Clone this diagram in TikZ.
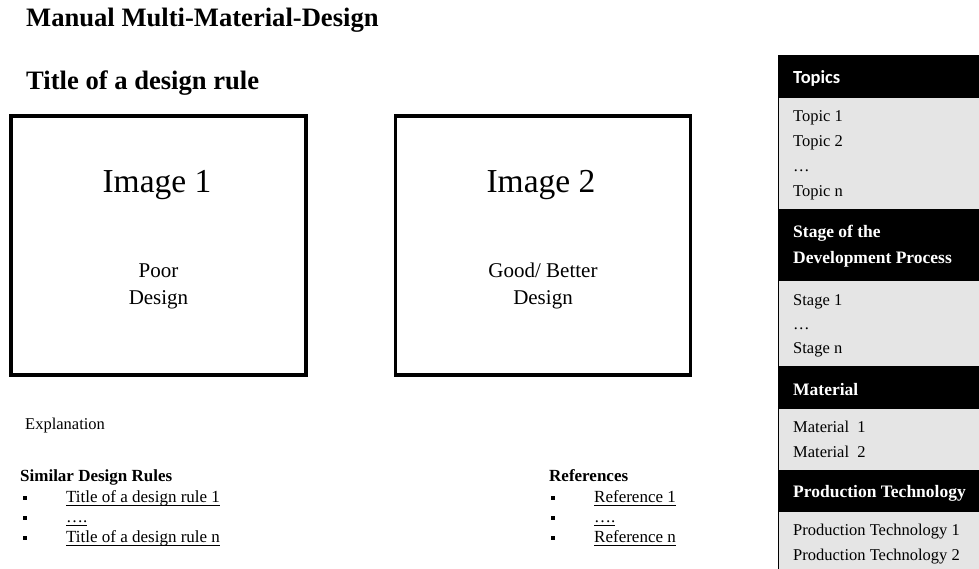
\documentclass[tikz,border=0pt]{standalone}
\usepackage{fontspec}
\setmainfont{Liberation Serif}
\newfontfamily\calfont{Carlito}
\usepackage{tikz}

\newcommand{\sqbullet}{\rule[2.5pt]{4pt}{4pt}}
\newcommand{\ulin}[1]{\setbox0\hbox{#1}\rlap{\rule[-3.5pt]{\wd0}{0.8pt}}\box0}

\begin{document}
\begin{tikzpicture}[x=1pt, y=-1pt,
    every node/.style={inner sep=0pt},
    lbl/.style={anchor=base west, font=\fontsize{16.5}{19}\selectfont},
    hd/.style={anchor=base west, font=\bfseries\fontsize{26.6}{30}\selectfont},
    sub/.style={anchor=base west, font=\bfseries\fontsize{17}{19}\selectfont},
    item/.style={anchor=base west, font=\fontsize{17}{19}\selectfont},
    bul/.style={anchor=base west},
    imgbox/.style={draw, line width=3.5pt, minimum width=295pt, minimum height=259pt},
    bandhd/.style={fill=black, draw=black},
    bandbody/.style={fill=black!10, draw=black, line width=0.8pt},
    pnlhd/.style={anchor=base west, text=white, font=\bfseries\fontsize{17.5}{25}\selectfont},
    pnl/.style={anchor=base west, font=\fontsize{16.5}{19}\selectfont}]
    \useasboundingbox (0,0) rectangle (979,569);

    % headings
    \node[hd] (mmd) at (26,27) {Manual Multi-Material-Design};
    \node[hd] (rule) at (26,90) {Title of a design rule};

    % image boxes
    \node[imgbox] (box1) at (158.5,245.5) {};
    \node[imgbox] (box2) at (543,245.5) {};
    \node[anchor=base, font=\fontsize{33.5}{36}\selectfont] (img1) at (157,193) {Image 1};
    \node[anchor=base, font=\fontsize{33.5}{36}\selectfont] (img2) at (541,193) {Image 2};
    \node[anchor=base, font=\fontsize{21}{27}\selectfont, align=center] (poor) at (158.5,304) {Poor\\Design};
    \node[anchor=base, font=\fontsize{21}{27}\selectfont, align=center] (good) at (543,304) {Good/ Better\\Design};

    % explanation and lists
    \node[lbl] (expl) at (25,429) {Explanation};
    \node[sub] (simhd) at (20,481) {Similar Design Rules};
    \node[bul] (sb1) at (23,502) {\sqbullet};
    \node[bul] (sb2) at (23,522) {\sqbullet};
    \node[bul] (sb3) at (23,542) {\sqbullet};
    \node[item] (sim1) at (66,502) {\ulin{Title of a design rule 1}};
    \node[item] (sim2) at (66,522) {\ulin{\dots.}};
    \node[item] (sim3) at (66,542) {\ulin{Title of a design rule n}};

    \node[sub] (refhd) at (549,481) {References};
    \node[bul] (rb1) at (551,502) {\sqbullet};
    \node[bul] (rb2) at (551,522) {\sqbullet};
    \node[bul] (rb3) at (551,542) {\sqbullet};
    \node[item] (ref1) at (594,502) {\ulin{Reference 1}};
    \node[item] (ref2) at (594,522) {\ulin{\dots.}};
    \node[item] (ref3) at (594,542) {\ulin{Reference n}};

    % side panel
    \draw[bandhd] (778,55) rectangle (990,97);
    \draw[bandbody] (778,97) rectangle (990,209);
    \draw[bandhd] (778,209) rectangle (990,280);
    \draw[bandbody] (778,280) rectangle (990,366);
    \draw[bandhd] (778,366) rectangle (990,408);
    \draw[bandbody] (778,408) rectangle (990,470);
    \draw[bandhd] (778,470) rectangle (990,511);
    \draw[bandbody] (778,511) rectangle (990,590);

    \node[pnlhd, font=\calfont\bfseries\fontsize{18.5}{22}\selectfont] (topics) at (793,84) {Topics};
    \node[pnl] (t1) at (793,122) {Topic 1};
    \node[pnl] (t2) at (793,147) {Topic 2};
    \node[pnl] (t3) at (793,172) {\dots};
    \node[pnl] (tn) at (793,197) {Topic n};

    \node[pnlhd] (stage) at (793,238) {Stage of the};
    \node[pnlhd] (devproc) at (793,263) {Development Process};
    \node[pnl] (s1) at (793,305) {Stage 1};
    \node[pnl] (s2) at (793,329) {\dots};
    \node[pnl] (sn) at (793,353) {Stage n};

    \node[pnlhd] (mat) at (793,395) {Material};
    \node[pnl] (m1) at (793,432) {Material\ \ 1};
    \node[pnl] (m2) at (793,457) {Material\ \ 2};

    \node[pnlhd] (prod) at (793,497) {Production Technology};
    \node[pnl] (p1) at (793,535) {Production Technology 1};
    \node[pnl] (p2) at (793,560) {Production Technology 2};
\end{tikzpicture}
\end{document}
